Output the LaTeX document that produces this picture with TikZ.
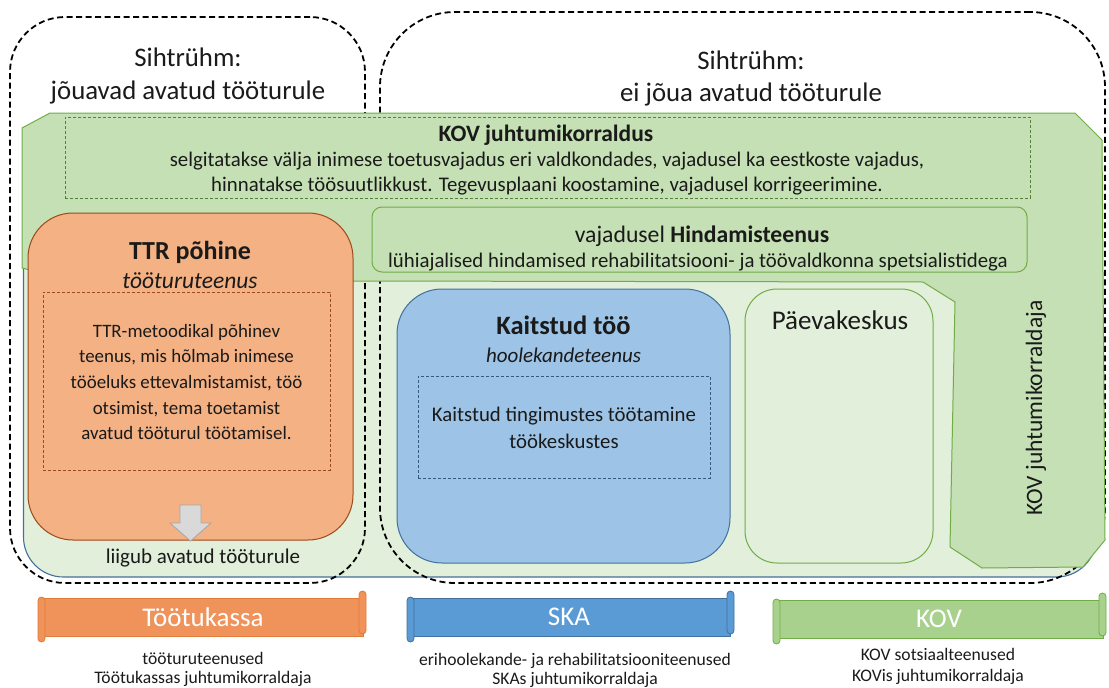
\documentclass[tikz,border=0pt]{standalone}
\usepackage{fontspec}
\setmainfont{Carlito}
\definecolor{bgg}{HTML}{E2EFDA}
\definecolor{midg}{HTML}{C5E0B4}
\definecolor{gline}{HTML}{70AD47}
\definecolor{gdark}{HTML}{548235}
\definecolor{orfill}{HTML}{F4B183}
\definecolor{orline}{HTML}{9C4A1A}
\definecolor{blfill}{HTML}{9DC3E6}
\definecolor{blline}{HTML}{41719C}
\definecolor{txt}{HTML}{1A1A1A}
\definecolor{bannO}{HTML}{F0935A}
\definecolor{bannOl}{HTML}{E07B39}
\definecolor{bannB}{HTML}{5B9BD5}
\definecolor{bannG}{HTML}{A9D18E}
\definecolor{arrg}{HTML}{D9D9D9}
\definecolor{arrl}{HTML}{A6A6A6}
\begin{document}
\begin{tikzpicture}[x=1pt,y=-1pt,
  every node/.style={inner sep=0pt, outer sep=0pt, text=txt},
  fs/.style={font=\fontsize{#1}{#1}\selectfont},
  groupbox/.style={draw=black, line width=1.8pt, dash pattern=on 6pt off 3.5pt},
  plainbox/.style={draw, line width=1pt},
  innerdash/.style={draw, line width=0.8pt, dash pattern=on 3pt off 2pt},
  bannerbody/.style={draw, line width=0.8pt, minimum height=38, fill=#1},
  roll/.style={draw, line width=0.8pt, rounded corners=3.5pt},
  lbl/.style={anchor=base, align=center}
]
\useasboundingbox (0,0) rectangle (1109,688);

% light green background area
\node[plainbox, draw=blline, fill=bgg, line width=1.1pt, rounded corners=40pt,
  minimum width=1073, minimum height=377] (bg) at (560,388.5) {};

% target group outlines
\node[groupbox, rounded corners=55pt, minimum width=355, minimum height=566] (lgrp) at (187.5,300) {};
\node[groupbox, rounded corners=75pt, minimum width=725, minimum height=571] (rgrp) at (742.5,297.5) {};

% big KOV green polygon
\draw[fill=midg, draw=gline, line width=1pt]
  (22,128) -- (50,113) -- (1075,113) -- (1102,140) -- (1105,540) -- (1083,567)
  -- (982,568) -- (950,547) -- (955,302) -- (923,282) -- (350,281) -- (30,270) -- (22,268) -- cycle;

\node[lbl, fs=26.8] (s1a) at (188,66) {Sihtrühm:};
\node[lbl, fs=26.8] (s1b) at (188,99) {jõuavad avatud tööturule};
\node[lbl, fs=26.8] (s2a) at (751,69) {Sihtrühm:};
\node[lbl, fs=26.8] (s2b) at (751,101) {ei jõua avatud tööturule};

% KOV juhtumikorraldus
\node[innerdash, draw=gdark, minimum width=965, minimum height=81] (kovj) at (547.5,157.5) {};
\node[lbl, fs=23.5] (kovjt) at (546,141) {\textbf{KOV juhtumikorraldus}};
\node[lbl, fs=20.8] (kovj1) at (547,166) {selgitatakse välja inimese toetusvajadus eri valdkondades, vajadusel ka eestkoste vajadus,};
\node[lbl, fs=20.8] (kovj2) at (547,191) {hinnatakse töösuutlikkust. Tegevusplaani koostamine, vajadusel korrigeerimine.};

% Hindamisteenus
\node[plainbox, draw=gline, fill=midg, rounded corners=10pt, minimum width=655, minimum height=65] (hind) at (699.5,239.5) {};
\node[lbl, fs=23.7] (hindt) at (702,242) {vajadusel \textbf{Hindamisteenus}};
\node[lbl, fs=20.8] (hind1) at (698,267) {lühiajalised hindamised rehabilitatsiooni- ja töövaldkonna spetsialistidega};

% KOV juhtumikorraldaja
\node[fs=23.5, rotate=90] (kovjk) at (1036,408) {KOV juhtumikorraldaja};

% TTR
\node[plainbox, draw=orline, fill=orfill, rounded corners=45pt, minimum width=325, minimum height=327] (ttr) at (190.5,376.5) {};
\node[lbl, fs=26] (ttrt) at (190,259) {\textbf{TTR põhine}};
\node[lbl, fs=23.5] (ttri) at (190,288) {\textit{tööturuteenus}};
\node[innerdash, draw=orline, minimum width=287, minimum height=178] (ttrd) at (186.5,381) {};
\node[align=center, font=\fontsize{18.9}{25.7}\selectfont] (ttrtx) at (186.5,382) {TTR-metoodikal põhinev\\teenus, mis hõlmab inimese\\tööeluks ettevalmistamist, töö\\otsimist, tema toetamist\\avatud tööturul töötamisel.};

% arrow
\draw[fill=arrg, draw=arrl, line width=0.8pt]
  (180,505) -- (201,505) -- (201,523) -- (211,523) -- (190.5,541) -- (170,523) -- (180,523) -- cycle;
\node[lbl, fs=21] (liig) at (203,563) {liigub avatud tööturule};

% Kaitstud töö
\node[plainbox, draw=blline, fill=blfill, rounded corners=45pt, minimum width=333, minimum height=274] (kait) at (563.5,426) {};
\node[lbl, fs=26.5] (kaitt) at (563.5,334) {\textbf{Kaitstud töö}};
\node[lbl, fs=21] (kaiti) at (563.5,362) {\textit{hoolekandeteenus}};
\node[innerdash, draw=blline!80!black, minimum width=292, minimum height=102] (kaitd) at (564,427) {};
\node[align=center, font=\fontsize{20.8}{27}\selectfont] (kaittx) at (564,428) {Kaitstud tingimustes töötamine\\töökeskustes};

% Päevakeskus
\node[plainbox, draw=gline, fill=bgg, rounded corners=32pt, minimum width=188, minimum height=274] (paev) at (839,426) {};
\node[lbl, fs=27] (paevt) at (840,329) {Päevakeskus};

% banners
\node[bannerbody=bannO, draw=bannOl, minimum width=321] (b1) at (202.5,617) {};
\draw[roll, fill=bannO, draw=bannOl] (38,597) rectangle (45,642);
\draw[roll, fill=bannO, draw=bannOl] (359,591) rectangle (366,634);
\node[fs=27, text=white] (b1t) at (203,617) {Töötukassa};

\node[bannerbody=bannB, draw=blline, minimum width=320] (b2) at (570,617) {};
\draw[roll, fill=bannB, draw=blline] (407,597) rectangle (414,642);
\draw[roll, fill=bannB, draw=blline] (727,591) rectangle (734,634);
\node[fs=27, text=white] (b2t) at (569,617) {SKA};

\node[bannerbody=bannG, draw=gline, minimum width=328] (b3) at (939,619) {};
\draw[roll, fill=bannG, draw=gline] (773,599) rectangle (780,644);
\node[fs=27, text=white] (b3t) at (939,619) {KOV};
\draw[roll, fill=bannG, draw=gline] (1099,593) rectangle (1106,636);

% bottom texts
\node[lbl, fs=17.6] (t1a) at (203,664) {tööturuteenused};
\node[lbl, fs=17.6] (t1b) at (203,683.5) {Töötukassas juhtumikorraldaja};
\node[lbl, fs=17.6] (t2a) at (575,665) {erihoolekande- ja rehabilitatsiooniteenused};
\node[lbl, fs=17.6] (t2b) at (575,684) {SKAs juhtumikorraldaja};
\node[lbl, fs=17.6] (t3a) at (938,660) {KOV sotsiaalteenused};
\node[lbl, fs=17.6] (t3b) at (938,681) {KOVis juhtumikorraldaja};
\end{tikzpicture}
\end{document}
